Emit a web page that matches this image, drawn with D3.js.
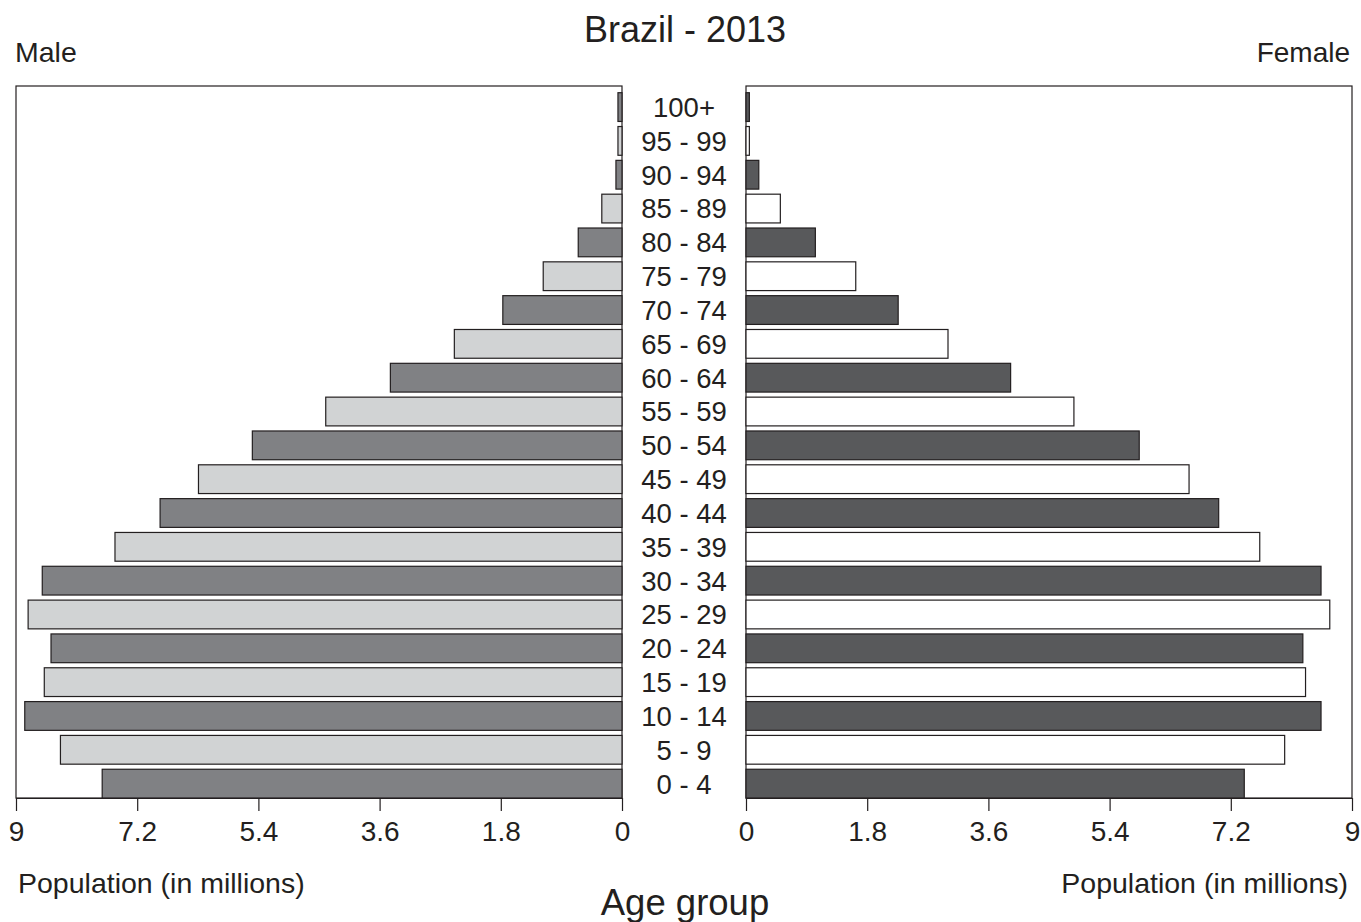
<!DOCTYPE html>
<html>
<head>
<meta charset="utf-8">
<script src="https://cdn.jsdelivr.net/npm/d3@7/dist/d3.min.js"></script>
<style>
  body { margin: 0; background: #fff; }
  svg { display: block; font-family: "Liberation Sans", Arial, Helvetica, sans-serif; }
</style>
</head>
<body>
<svg id="chart" width="1361" height="922"></svg>
<script>
const ageGroups = ["100+","95 - 99","90 - 94","85 - 89","80 - 84","75 - 79","70 - 74","65 - 69","60 - 64","55 - 59","50 - 54","45 - 49","40 - 44","35 - 39","30 - 34","25 - 29","20 - 24","15 - 19","10 - 14","5 - 9","0 - 4"];
const maleValues   = [0.06,0.06,0.09,0.30,0.65,1.17,1.77,2.49,3.44,4.40,5.49,6.29,6.86,7.53,8.61,8.82,8.48,8.58,8.87,8.34,7.72];
const femaleValues = [0.05,0.05,0.19,0.51,1.03,1.63,2.26,3.00,3.93,4.87,5.84,6.58,7.02,7.63,8.54,8.67,8.27,8.31,8.54,8.00,7.40];
const tickValues = [0, 1.8, 3.6, 5.4, 7.2, 9];
const maleColors = ["#808184", "#d1d3d4"];
const femaleColors = ["#58595b", "#ffffff"];

const svg = d3.select("#chart");
const ink = "#231f20";

const leftX = d3.scaleLinear().domain([0, 9]).range([622, 16]);
const rightX = d3.scaleLinear().domain([0, 9]).range([746, 1352]);
const y = d3.scaleBand().domain(ageGroups).range([92.7, 798]).paddingInner(0.15).paddingOuter(0);

const panelTop = 86, panelBottom = 798;

// panel boxes
[[16, 622], [746, 1352]].forEach(([a, b]) => {
  svg.append("rect").attr("x", a).attr("y", panelTop).attr("width", b - a).attr("height", panelBottom - panelTop)
    .attr("fill", "none").attr("stroke", ink).attr("stroke-width", 1.2);
});

// male bars
svg.append("g").selectAll("rect").data(ageGroups).join("rect")
  .attr("x", (d, i) => leftX(maleValues[i]))
  .attr("y", d => y(d))
  .attr("width", (d, i) => leftX(0) - leftX(maleValues[i]))
  .attr("height", y.bandwidth())
  .attr("fill", (d, i) => maleColors[i % 2])
  .attr("stroke", ink).attr("stroke-width", 1.2);

// female bars
svg.append("g").selectAll("rect").data(ageGroups).join("rect")
  .attr("x", rightX(0))
  .attr("y", d => y(d))
  .attr("width", (d, i) => rightX(femaleValues[i]) - rightX(0))
  .attr("height", y.bandwidth())
  .attr("fill", (d, i) => femaleColors[i % 2])
  .attr("stroke", ink).attr("stroke-width", 1.2);

// age labels
svg.append("g").selectAll("text").data(ageGroups).join("text")
  .attr("x", 684)
  .attr("y", d => y(d) + y.bandwidth() / 2)
  .attr("dy", "0.36em")
  .attr("text-anchor", "middle")
  .attr("font-size", 27.5)
  .attr("fill", ink)
  .text(d => d);

// axes
function styleAxis(g) {
  g.select(".domain").attr("stroke", ink).attr("stroke-width", 1.2);
  g.selectAll(".tick line").attr("stroke", ink).attr("stroke-width", 1.2);
  g.selectAll(".tick text").attr("font-size", 28).attr("fill", ink)
    .attr("font-family", "'Liberation Sans', Arial, sans-serif");
}
svg.append("g").attr("transform", `translate(0,${panelBottom})`)
  .call(d3.axisBottom(leftX).tickValues(tickValues).tickFormat(d3.format("")).tickSize(13).tickSizeOuter(0).tickPadding(10))
  .call(styleAxis);
svg.append("g").attr("transform", `translate(0,${panelBottom})`)
  .call(d3.axisBottom(rightX).tickValues(tickValues).tickFormat(d3.format("")).tickSize(13).tickSizeOuter(0).tickPadding(10))
  .call(styleAxis);

// titles & labels
svg.append("text").attr("x", 685).attr("y", 42).attr("text-anchor", "middle")
  .attr("font-size", 36).attr("fill", ink).text("Brazil - 2013");
svg.append("text").attr("x", 15).attr("y", 62).attr("font-size", 28.5).attr("fill", ink).text("Male");
svg.append("text").attr("x", 1350).attr("y", 62).attr("text-anchor", "end").attr("font-size", 28).attr("fill", ink).text("Female");
svg.append("text").attr("x", 18).attr("y", 893).attr("font-size", 28.5).attr("fill", ink).text("Population (in millions)");
svg.append("text").attr("x", 1348).attr("y", 893).attr("text-anchor", "end").attr("font-size", 28.5).attr("fill", ink).text("Population (in millions)");
svg.append("text").attr("x", 685).attr("y", 915).attr("text-anchor", "middle")
  .attr("font-size", 36.5).attr("fill", ink).text("Age group");
</script>
</body>
</html>
